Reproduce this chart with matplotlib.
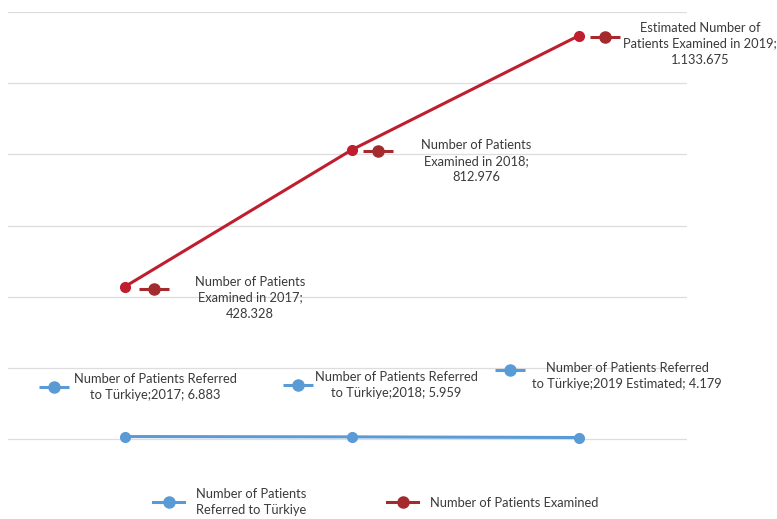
import matplotlib.pyplot as plt
from matplotlib.lines import Line2D
from matplotlib.transforms import offset_copy

RED = "#BF1E2E"
RED_KEY = "#A52A2D"
BLUE = "#5B9BD5"
GRID = "#DDDDDD"
TEXT = "#3A3A3A"
FONT = ["Lato", "DejaVu Sans"]

years = ["2017", "2018", "2019"]
examined = [428328, 812976, 1133675]
referred = [6883, 5959, 4179]
examined_labels = [
    "Number of Patients\nExamined in 2017;\n428.328",
    "Number of Patients\nExamined in 2018;\n812.976",
    "Estimated Number of\nPatients Examined in 2019;\n1.133.675",
]
referred_labels = [
    "Number of Patients Referred\nto Türkiye;2017; 6.883",
    "Number of Patients Referred\nto Türkiye;2018; 5.959",
    "Number of Patients Referred\nto Türkiye;2019 Estimated; 4.179",
]
legend_labels = ["Number of Patients\nReferred to Türkiye", "Number of Patients Examined"]

plt.rcParams["font.family"] = FONT
plt.rcParams["font.size"] = 9.3

W, H = 777, 519
fig = plt.figure(figsize=(W / 100, H / 100), dpi=100)
# axes spans y pixels 12 (1.2M) down to 449 (a little below zero)
per_px = 1200000 / (439 - 12)
ax = fig.add_axes([8 / W, 1 - 449 / H, (687 - 8) / W, (449 - 12) / H])

x = range(len(years))
ax.set_xlim(-117 / 227, 562 / 227)
ax.set_ylim(-10 * per_px, 1200000)
ax.set_yticks(range(0, 1200001, 200000))
ax.yaxis.grid(True, color=GRID, linewidth=0.9)
ax.set_axisbelow(True)
ax.tick_params(left=False, bottom=False, labelleft=False, labelbottom=False)
for s in ax.spines.values():
    s.set_visible(False)

ax.plot(x, examined, color=RED, lw=2.2, marker="o", ms=7, clip_on=False, zorder=3)
ax.plot(x, referred, color=BLUE, lw=2.2, marker="o", ms=7, clip_on=False, zorder=3)


def key(xi, yi, dx, dy, color):
    tr = offset_copy(ax.transData, fig=fig, x=dx, y=-dy, units="dots")
    ax.plot(xi, yi, marker="_", ms=22, mew=2.2, color=color, transform=tr, clip_on=False)
    ax.plot(xi, yi, marker="o", ms=8, color=color, transform=tr, clip_on=False)


def label(xi, yi, dx, dy, s):
    tr = offset_copy(ax.transData, fig=fig, x=dx, y=-dy, units="dots")
    ax.text(xi, yi, s, transform=tr, ha="center", va="center", color=TEXT,
            fontsize=9.3, linespacing=1.4, multialignment="center")


red_offsets = [(29, 2, 125, 11), (26, 1, 124, 11), (26, 1, 121, 8)]
for i, (kx, ky, tx, ty) in enumerate(red_offsets):
    key(i, examined[i], kx, ky, RED_KEY)
    label(i, examined[i], tx, ty, examined_labels[i])

blue_offsets = [(-71, -50, 30, -50), (-54, -52, 44, -52), (-69, -68, 48, -62)]
for i, (kx, ky, tx, ty) in enumerate(blue_offsets):
    key(i, referred[i], kx, ky, BLUE)
    label(i, referred[i], tx, ty, referred_labels[i])

handles = [
    Line2D([], [], color=BLUE, lw=2.2, marker="o", ms=8),
    Line2D([], [], color=RED_KEY, lw=2.2, marker="o", ms=8),
]
leg = fig.legend(handles, legend_labels, loc="upper left", bbox_to_anchor=(153 / W, 1 - 488 / H),
                 ncol=2, frameon=False, handlelength=2.4, handletextpad=0.9, columnspacing=6.3,
                 labelcolor=TEXT, fontsize=9.3, borderpad=0, borderaxespad=0)
for t in leg.get_texts():
    t.set_linespacing(1.4)

fig.savefig("out.png", dpi=100, facecolor="white")
